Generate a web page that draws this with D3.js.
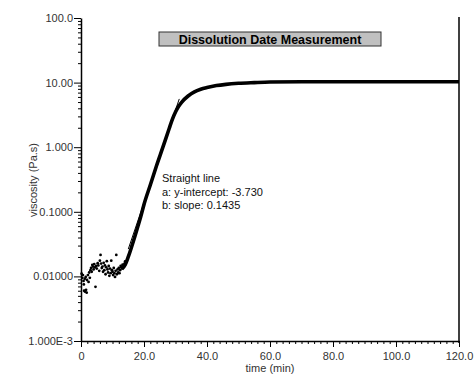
<!DOCTYPE html>
<html>
<head>
<meta charset="utf-8">
<script src="https://cdn.jsdelivr.net/npm/d3@7"></script>
<style>
  body { margin: 0; background: #fff; }
  svg text { font-family: "Liberation Sans", Arial, sans-serif; }
</style>
</head>
<body>
<div id="chart"></div>
<script>
// noisy early readings (time min, viscosity Pa.s)
let scatterTime = [0.2,0.4,0.6,0.8,0.9,1.0,1.3,1.6,1.8,1.2,1.5,1.9,2.2,2.4,2.6,2.8,3.0,3.2,3.4,3.6,3.8,4.0,4.2,4.4,4.6,4.8,5.0,5.3,5.5,5.8,6.0,6.2,6.4,6.6,6.8,7.0,7.2,7.4,7.6,7.8,8.0,8.2,8.4,8.6,8.8,9.0,9.2,9.4,9.6,9.8,10.0,10.2,10.4,10.6,10.8,11.0,11.2,11.4,11.6,11.8,12.0,12.2,12.4,12.6,12.8,13.0,13.2,13.5,13.8,14.0];
let scatterVisc = [0.011,0.0095,0.0105,0.0085,0.0075,0.006,0.0058,0.0062,0.0056,0.0092,0.0098,0.0088,0.0105,0.0082,0.0115,0.0095,0.0125,0.0135,0.0118,0.015,0.0142,0.0128,0.0155,0.0138,0.0069,0.0145,0.0132,0.016,0.0148,0.0122,0.0175,0.0215,0.0158,0.0135,0.0142,0.0118,0.0162,0.0125,0.0148,0.0108,0.0138,0.0172,0.0128,0.0115,0.0145,0.0102,0.0132,0.0112,0.0175,0.0125,0.0118,0.0105,0.0135,0.0112,0.0098,0.0122,0.0215,0.0108,0.0128,0.0115,0.0135,0.0112,0.0125,0.0145,0.0138,0.0132,0.0152,0.0145,0.0158,0.017];

// dense part of the measurement, drawn as a thick trace
let curveTime = [13,14,15,16,17,18,19,20,22,24,26,28,29,30,31,32,34,36,38,40,43,46,50,55,60,70,80,90,100,110,120];
let curveVisc = [0.013,0.015,0.02,0.028,0.04,0.058,0.085,0.13,0.26,0.52,1.0,1.95,2.7,3.5,4.3,5.0,6.2,7.2,7.9,8.4,9.0,9.4,9.75,10.0,10.2,10.3,10.3,10.3,10.3,10.3,10.3];

// straight line fit: log10(visc) = a + b*t
let fitA = -3.730, fitB = 0.1435;
let fitRange = [15, 31.2];

let xTicks = [0, 20, 40, 60, 80, 100, 120];
let xTickLabels = ["0", "20.0", "40.0", "60.0", "80.0", "100.0", "120.0"];
let yTicks = [100, 10, 1, 0.1, 0.01, 0.001];
let yTickLabels = ["100.0", "10.00", "1.000", "0.1000", "0.01000", "1.000E-3"];

let title = "Dissolution Date Measurement";
let noteLines = ["Straight line", "a: y-intercept: -3.730", "b: slope: 0.1435"];

function main() {
    var width = 476, height = 376;
    var left = 81, right = 459, top = 18, bottom = 341;

    var svg = d3.select("#chart").append("svg")
        .attr("width", width)
        .attr("height", height);

    var x = d3.scaleLinear().domain([0, 120]).range([left, right]);
    var y = d3.scaleLog().domain([0.001, 100]).range([bottom, top]);

    // minor ticks
    var xMinor = d3.range(0, 121, 2).filter(function(d) { return d % 20 != 0; });
    svg.append("g")
        .attr("transform", "translate(0," + bottom + ")")
        .call(d3.axisBottom(x).tickValues(xMinor).tickSize(3).tickFormat(""))
        .call(function(g) { g.select(".domain").remove(); });

    var yMinor = [];
    for (let e = -3; e < 2; e++) {
        for (let m = 2; m <= 9; m++) yMinor.push(m * Math.pow(10, e));
    }
    svg.append("g")
        .attr("transform", "translate(" + left + ",0)")
        .call(d3.axisLeft(y).tickValues(yMinor).tickSize(3).tickFormat(""))
        .call(function(g) { g.select(".domain").remove(); });

    // major axes
    var xAxis = svg.append("g")
        .attr("transform", "translate(0," + bottom + ")")
        .call(d3.axisBottom(x).tickValues(xTicks).tickSize(6).tickSizeOuter(0)
            .tickFormat(function(d, i) { return xTickLabels[i]; }));
    xAxis.selectAll("text").attr("font-size", 11).attr("fill", "#333").attr("dy", "0.95em");

    var yAxis = svg.append("g")
        .attr("transform", "translate(" + left + ",0)")
        .call(d3.axisLeft(y).tickValues(yTicks).tickSize(7).tickSizeOuter(0)
            .tickFormat(function(d, i) { return yTickLabels[i]; }));
    yAxis.selectAll("text").attr("font-size", 11).attr("fill", "#333").attr("x", -8);

    svg.selectAll(".domain").attr("stroke-width", 1.5);
    svg.selectAll(".tick line").attr("stroke", "#000");

    // right border
    svg.append("line")
        .attr("x1", right).attr("x2", right)
        .attr("y1", top - 1).attr("y2", bottom + 2)
        .attr("stroke", "#000").attr("stroke-width", 1.5);

    // data
    var pts = scatterTime.map(function(t, i) { return {t: t, v: scatterVisc[i]}; });
    svg.append("g").selectAll("circle")
        .data(pts).enter().append("circle")
        .attr("cx", function(d) { return x(d.t); })
        .attr("cy", function(d) { return y(d.v); })
        .attr("r", 1.4)
        .attr("fill", "#000");

    var curve = curveTime.map(function(t, i) { return {t: t, v: curveVisc[i]}; });
    svg.append("path")
        .datum(curve)
        .attr("fill", "none")
        .attr("stroke", "#000")
        .attr("stroke-width", 3.6)
        .attr("d", d3.line()
            .curve(d3.curveMonotoneX)
            .x(function(d) { return x(d.t); })
            .y(function(d) { return y(d.v); }));

    var fit = fitRange.map(function(t) { return {t: t, v: Math.pow(10, fitA + fitB * t)}; });
    svg.append("path")
        .datum(fit)
        .attr("fill", "none")
        .attr("stroke", "#000")
        .attr("stroke-width", 1)
        .attr("d", d3.line()
            .x(function(d) { return x(d.t); })
            .y(function(d) { return y(d.v); }));

    // title box
    svg.append("rect")
        .attr("x", 159).attr("y", 32)
        .attr("width", 222).attr("height", 14)
        .attr("fill", "#c0c0c0")
        .attr("stroke", "#333").attr("stroke-width", 1);
    svg.append("text")
        .attr("x", 270).attr("y", 43.5)
        .attr("text-anchor", "middle")
        .attr("font-size", 12.5).attr("font-weight", "bold")
        .attr("fill", "#000")
        .text(title);

    // fit annotation
    svg.append("g").selectAll("text")
        .data(noteLines).enter().append("text")
        .attr("x", 162)
        .attr("y", function(d, i) { return 182 + i * 13.5; })
        .attr("font-size", 11)
        .attr("fill", "#111")
        .text(function(d) { return d; });

    // axis titles
    svg.append("text")
        .attr("x", 270).attr("y", 372)
        .attr("text-anchor", "middle")
        .attr("font-size", 11).attr("fill", "#333")
        .text("time (min)");
    svg.append("text")
        .attr("transform", "translate(37,180) rotate(-90)")
        .attr("text-anchor", "middle")
        .attr("font-size", 11).attr("fill", "#333")
        .text("viscosity (Pa.s)");
}

main();
</script>
</body>
</html>
